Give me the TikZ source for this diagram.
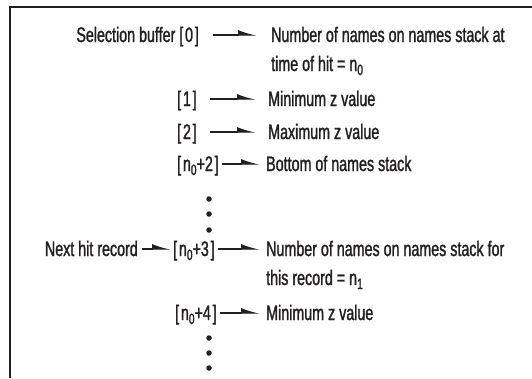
\documentclass[tikz,border=0pt]{standalone}
\usepackage{fontspec}
\setmainfont{Liberation Sans}[FakeStretch=0.68,FakeBold=1.3]
\usetikzlibrary{arrows.meta}
\definecolor{ink}{HTML}{231F20}
\newcommand{\bk}[1]{[\kern1.8pt#1\kern1.8pt]}
\newcommand{\sbx}[1]{\raisebox{-4pt}{\fontsize{15}{15}\selectfont #1}}
\begin{document}
\begin{tikzpicture}[x=1pt,y=-1pt,
 lab/.style={inner sep=0pt, font=\fontsize{21}{24}\selectfont, text=ink},
 lw/.style={lab, anchor=base west},
 le/.style={lab, anchor=base east},
 arr/.style={draw=ink, line width=1.2pt, -{Latex[harpoon,length=16pt,width=10pt]}},
 dot/.style={circle, fill=ink, inner sep=0pt, minimum size=5.5pt}]
\useasboundingbox (0,0) rectangle (532,378);
\fill[white] (0,0) rectangle (532,378);
\draw[ink, line width=2.5pt] (10,378) -- (10,7) -- (532,7);

\node[le] (b0) at (199,42) {Selection buffer \bk{0}};
\node[lw] (m0) at (271,42) {Number of names on names stack at};
\node[lw] (m0b) at (271,71) {time of hit = n\sbx{0}};
\node[lw] (b1) at (177,106) {\bk{1}};
\node[lw] (m1) at (268,106) {Minimum z value};
\node[lw] (b2) at (177,139) {\bk{2}};
\node[lw] (m2) at (268,139) {Maximum z value};
\node[lw] (b3) at (177,171) {\bk{n\sbx{0}+2}};
\node[lw] (m3) at (266,171) {Bottom of names stack};
\node[dot] (d1) at (209,199) {};
\node[dot] (d2) at (209,214) {};
\node[dot] (d3) at (209,230) {};
\node[le] (nh) at (138,256) {Next hit record};
\node[lw] (b4) at (173,256) {\bk{n\sbx{0}+3}};
\node[lw] (m4) at (266,256) {Number of names on names stack for};
\node[lw] (m4b) at (266,285) {this record = n\sbx{1}};
\node[lw] (b5) at (175,320) {\bk{n\sbx{0}+4}};
\node[lw] (m5) at (266,320) {Minimum z value};
\node[dot] (d4) at (209,338) {};
\node[dot] (d5) at (209,353) {};
\node[dot] (d6) at (209,368) {};

\draw[arr] ([shift={(14pt,7pt)}]b0.base east) -- ([shift={(-14pt,7pt)}]m0.base west);
\draw[arr] ([shift={(13pt,7pt)}]b1.base east) -- ([shift={(-12pt,7pt)}]m1.base west);
\draw[arr] ([shift={(13pt,7pt)}]b2.base east) -- ([shift={(-12pt,7pt)}]m2.base west);
\draw[arr] ([shift={(3pt,7pt)}]b3.base east) -- ([shift={(-6pt,7pt)}]m3.base west);
\draw[arr] ([shift={(4pt,7pt)}]nh.base east) -- ([shift={(-2pt,7pt)}]b4.base west);
\draw[arr] ([shift={(3pt,7pt)}]b4.base east) -- ([shift={(-6pt,7pt)}]m4.base west);
\draw[arr] ([shift={(3pt,7pt)}]b5.base east) -- ([shift={(-6pt,7pt)}]m5.base west);
\end{tikzpicture}
\end{document}
